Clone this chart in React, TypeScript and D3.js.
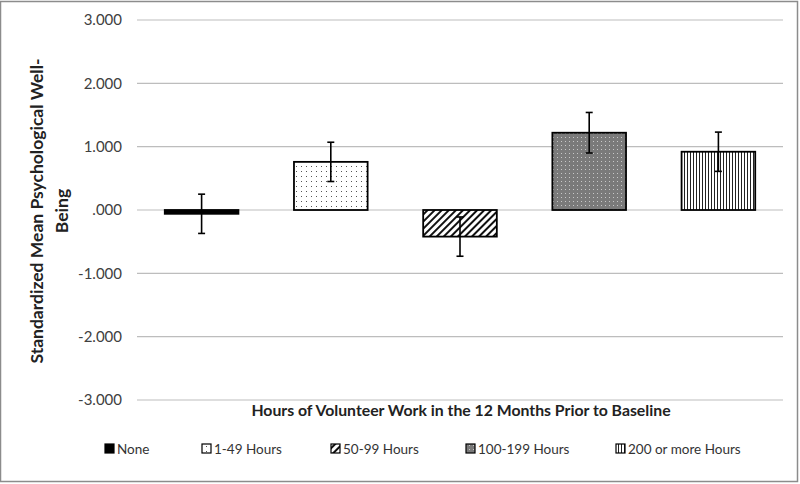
import React from "react";
import * as d3 from "d3";

const categories = ["None", "1-49 Hours", "50-99 Hours", "100-199 Hours", "200 or more Hours"];
const means = [-0.06, 0.76, -0.42, 1.22, 0.92];
const errors = [0.31, 0.31, 0.31, 0.32, 0.31];
const yTicks = [-3, -2, -1, 0, 1, 2, 3];
const patternIds = ["p-none", "p-dots", "p-diag", "p-gray", "p-vert"];

const W = 800, H = 484;
const margin = { left: 137, right: 17, top: 20, bottom: 84 };

function fmt(v: number) {
  const s = Math.abs(v).toFixed(3);
  if (v === 0) return ".000";
  return (v < 0 ? "-" : "") + s;
}

export default function App() {
  const x = d3.scaleBand<string>().domain(categories).range([margin.left, W - margin.right]).paddingInner(0.43).paddingOuter(0.215);
  const y = d3.scaleLinear().domain([-3, 3]).range([H - margin.bottom, margin.top]);
  const font = "Lato, 'Open Sans', sans-serif";
  const legendX = [105, 202, 331, 466, 616];
  return (
    <svg width={W} height={H} style={{ position: "absolute", left: 0, top: 0, background: "#fff" }}>
      <defs>
        <pattern id="p-none" width="4" height="4" patternUnits="userSpaceOnUse">
          <rect width="4" height="4" fill="#000" />
        </pattern>
        <pattern id="p-dots" width="5" height="5" patternUnits="userSpaceOnUse">
          <rect width="5" height="5" fill="#fff" />
          <rect x="1" y="1" width="1" height="1" fill="#555" />
        </pattern>
        <pattern id="p-diag" width="5" height="5" patternUnits="userSpaceOnUse" patternTransform="rotate(45)">
          <rect width="5" height="5" fill="#fff" />
          <rect x="0" y="0" width="2" height="5" fill="#111" />
        </pattern>
        <pattern id="p-gray" width="4" height="4" patternUnits="userSpaceOnUse">
          <rect width="4" height="4" fill="#7a7a7a" />
          <rect x="1" y="1" width="1" height="1" fill="#c8c8c8" />
        </pattern>
        <pattern id="p-vert" width="3" height="3" patternUnits="userSpaceOnUse">
          <rect width="3" height="3" fill="#fff" />
          <rect x="0" y="0" width="1" height="3" fill="#222" />
        </pattern>
      </defs>
      <rect x={0.5} y={1.5} width={W - 3} height={H - 4} fill="none" stroke="#8c8c8c" strokeWidth={1.5} />
      {yTicks.map((t) => (
        <g key={t}>
          <line x1={margin.left} x2={W - margin.right} y1={y(t)} y2={y(t)} stroke="#bdbdbd" strokeWidth={1.2} />
          <text x={122} y={y(t)} dy="0.35em" textAnchor="end" fontFamily={font} fontSize={15} fill="#404040">{fmt(t)}</text>
        </g>
      ))}
      {categories.map((c, i) => {
        const v = means[i];
        const bx = x(c)!;
        const bw = x.bandwidth();
        const y0 = y(Math.max(0, v));
        const h = Math.abs(y(v) - y(0));
        const cx = bx + bw / 2;
        return (
          <g key={c}>
            <rect x={bx} y={y0} width={bw} height={Math.max(h, 0.1)} fill={`url(#${patternIds[i]})`} stroke="#000" strokeWidth={1.8} />
            <line x1={cx} x2={cx} y1={y(v + errors[i])} y2={y(v - errors[i])} stroke="#000" strokeWidth={1.6} />
            <line x1={cx - 3.5} x2={cx + 3.5} y1={y(v + errors[i])} y2={y(v + errors[i])} stroke="#000" strokeWidth={1.6} />
            <line x1={cx - 3.5} x2={cx + 3.5} y1={y(v - errors[i])} y2={y(v - errors[i])} stroke="#000" strokeWidth={1.6} />
          </g>
        );
      })}
      <text transform={`translate(37,${(y(-3) + y(3)) / 2 + 1}) rotate(-90)`} textAnchor="middle" fontFamily={font} fontWeight="bold" fontSize={17.5} fill="#222">
        <tspan x={0} dy="0.35em">Standardized Mean Psychological Well-</tspan>
        <tspan x={0} dy="25">Being</tspan>
      </text>
      <text x={461} y={416} textAnchor="middle" fontFamily={font} fontWeight="bold" fontSize={15.8} fill="#222">Hours of Volunteer Work in the 12 Months Prior to Baseline</text>
      {categories.map((c, i) => (
        <g key={c}>
          <rect x={legendX[i]} y={444} width={9} height={9} fill={`url(#${patternIds[i]})`} stroke="#000" strokeWidth={1.2} />
          <text x={legendX[i] + 12} y={449} dy="0.35em" fontFamily={font} fontSize={13.5} fill="#333">{c}</text>
        </g>
      ))}
    </svg>
  );
}
